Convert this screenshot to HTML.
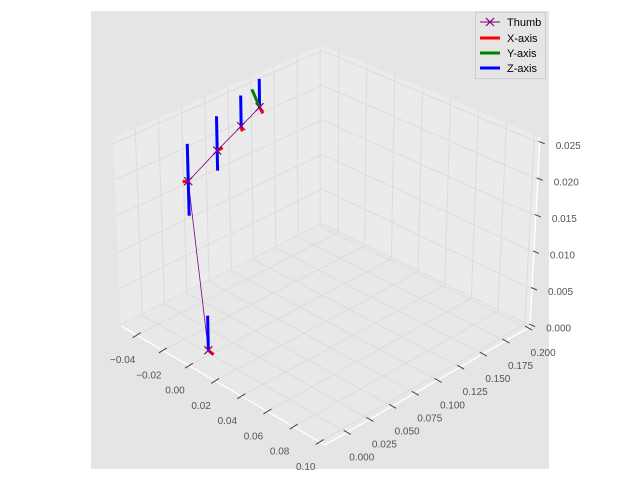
<!DOCTYPE html>
<html><head><meta charset="utf-8"><style>
body{margin:0;background:#fff;}
svg{display:block;font-family:"Liberation Sans",sans-serif;}
</style></head><body>
<svg id="chart" width="640" height="480" viewBox="0 0 640 480">
<rect x="91" y="11" width="458" height="458" fill="#e5e5e5"/>
<g id="panes"></g><g id="grid"></g><g id="axes"></g><g id="marks"></g>
<g>
<rect x="475.5" y="12.5" width="70" height="66" fill="#e5e5e5" stroke="#cccccc"/>
<g><line x1="480" y1="22" x2="500" y2="22" stroke="#800080" stroke-width="1"/><path d="M486,18 l8,8 M494,18 l-8,8" stroke="#800080" stroke-width="1.2"/><text x="507" y="26" font-size="11" fill="#000">Thumb</text></g>
<g><line x1="480" y1="38" x2="500" y2="38" stroke="#ff0000" stroke-width="3"/><text x="507" y="42" font-size="11" fill="#000">X-axis</text></g>
<g><line x1="480" y1="53" x2="500" y2="53" stroke="#008000" stroke-width="3"/><text x="507" y="57" font-size="11" fill="#000">Y-axis</text></g>
<g><line x1="480" y1="68" x2="500" y2="68" stroke="#0000ff" stroke-width="3"/><text x="507" y="72" font-size="11" fill="#000">Z-axis</text></g>
</g>
</svg>
<script>
const xTicks=[-0.04,-0.02,0.00,0.02,0.04,0.06,0.08,0.10];
const xTickLabels=["\u22120.04","\u22120.02","0.00","0.02","0.04","0.06","0.08","0.10"];
const yTicks=[0,0.025,0.05,0.075,0.1,0.125,0.15,0.175,0.2];
const yTickLabels=["0.000","0.025","0.050","0.075","0.100","0.125","0.150","0.175","0.200"];
const zTicks=[0,0.005,0.01,0.015,0.02,0.025];
const zTickLabels=["0.000","0.005","0.010","0.015","0.020","0.025"];
const thumbX=[0.0026,-0.0364,-0.0362,-0.0360,-0.0358];
const thumbY=[-0.006,0.0325,0.0642,0.0902,0.110];
const thumbZ=[0.001,0.018,0.0204,0.0223,0.0238];
const zAxisUp=[0.0047,0.0052,0.0048,0.0043,0.004];
const zAxisDown=[0,0.0048,0.0028,0,0];
const xAxisDx=[0.004,0,0.002,0,0.001];
const xAxisDy=[0,-0.006,0.003,0.001,0.002];
const xAxisDz=[-0.0002,0.0003,0.0004,-0.0008,-0.0009];
const yAxisDx=[0,0,0,0,0];
const yAxisDy=[0,0,0,0,-0.008];
const yAxisDz=[0,0,0,0,0.003];

const X0=-0.052,X1=0.104,Y0=-0.024,Y1=0.202,Z0=-0.0002,Z1=0.0258;
const L=[121,326],F=[325,445],R=[530,327],B=[322,225];
const HL=[-8,-188],HF=[2,-200],HR=[10,-190],HB=[0,-180];
function bil(a,b,c,d,u,v,i){return (1-u)*(1-v)*a[i]+u*(1-v)*b[i]+u*v*c[i]+(1-u)*v*d[i];}
function P(x,y,z){const u=(x-X0)/(X1-X0),v=(y-Y0)/(Y1-Y0),w=(z-Z0)/(Z1-Z0);
 return [bil(L,F,R,B,u,v,0)+w*bil(HL,HF,HR,HB,u,v,0), bil(L,F,R,B,u,v,1)+w*bil(HL,HF,HR,HB,u,v,1)];}
const NS="http://www.w3.org/2000/svg";
function mk(tag,parent,attrs){const e=document.createElementNS(NS,tag);for(const k in attrs)e.setAttribute(k,attrs[k]);document.getElementById(parent).appendChild(e);return e;}
function line(parent,a,b,stroke,w){return mk('line',parent,{x1:a[0],y1:a[1],x2:b[0],y2:b[1],stroke:stroke,'stroke-width':w,'stroke-linecap':'butt'});}
function poly(parent,pts,fill){return mk('polygon',parent,{points:pts.map(p=>p.join(',')).join(' '),fill:fill});}
let e;
e=poly('panes',[P(X0,Y0,Z0),P(X0,Y1,Z0),P(X0,Y1,Z1),P(X0,Y0,Z1)],'#ebebeb');


e=poly('panes',[P(X0,Y1,Z0),P(X1,Y1,Z0),P(X1,Y1,Z1),P(X0,Y1,Z1)],'#ebebeb');


e=poly('panes',[P(X0,Y0,Z0),P(X1,Y0,Z0),P(X1,Y1,Z0),P(X0,Y1,Z0)],'#e8e8e8');


const gc='#dcdcdc';
xTicks.forEach(t=>{
 e=line('grid',P(t,Y0,Z0),P(t,Y1,Z0),gc,1);
 
 
 e=line('grid',P(t,Y1,Z0),P(t,Y1,Z1),gc,1);
 
 
});
yTicks.forEach(t=>{
 e=line('grid',P(X0,t,Z0),P(X1,t,Z0),gc,1);
 
 
 e=line('grid',P(X0,t,Z0),P(X0,t,Z1),gc,1);
 
 
});
zTicks.forEach(t=>{
 e=line('grid',P(X0,Y0,t),P(X0,Y1,t),gc,1);
 
 
 e=line('grid',P(X0,Y1,t),P(X1,Y1,t),gc,1);
 
 
});
e=line('axes',P(X0,Y0,Z0),P(X1,Y0,Z0),'#ffffff',1.3);


e=line('axes',P(X1,Y0,Z0),P(X1,Y1,Z0),'#ffffff',1.3);


e=line('axes',P(X1,Y1,Z0),P(X1,Y1,Z1),'#ffffff',1.3);


function label(txt,x,y,anchor,name){const t=mk('text','axes',{x:x,y:y,'font-size':'10','fill':'#555','text-anchor':anchor});t.textContent=txt;
 
 }
xTicks.forEach((t,i)=>{const p=P(t,Y0,Z0);
 e=line('axes',[p[0]-4,p[1]+2.5],[p[0]+4,p[1]-2.5],'#444',1);
 
 
 label(xTickLabels[i],p[0]-14,p[1]+28,'middle','x-tick-label');});
yTicks.forEach((t,i)=>{const p=P(X1,t,Z0);
 e=line('axes',[p[0]-3,p[1]-2],[p[0]+4,p[1]+2],'#444',1);
 
 
 label(yTickLabels[i],p[0]+15,p[1]+28,'middle','y-tick-label');});
zTicks.forEach((t,i)=>{const p=P(X1,Y1,t);
 e=line('axes',[p[0]-1,p[1]-1.5],[p[0]+5,p[1]+1],'#444',1);
 
 
 label(zTickLabels[i],p[0]+16,p[1]+6,'start','z-tick-label');});
const pts=thumbX.map((x,i)=>P(x,thumbY[i],thumbZ[i]));
e=mk('polyline','marks',{points:pts.map(p=>p.join(',')).join(' '),fill:'none',stroke:'#800080','stroke-width':0.8});


thumbX.forEach((x,i)=>{const p=P(x,thumbY[i],thumbZ[i]);
 e=line('marks',P(x,thumbY[i],thumbZ[i]-zAxisDown[i]),P(x,thumbY[i],thumbZ[i]+zAxisUp[i]),'#0000ff',3);
 
 
 if(yAxisDy[i]||yAxisDz[i]||yAxisDx[i]){
 e=line('marks',p,P(x+yAxisDx[i],thumbY[i]+yAxisDy[i],thumbZ[i]+yAxisDz[i]),'#008000',3);
 
 }
 e=line('marks',p,P(x+xAxisDx[i],thumbY[i]+xAxisDy[i],thumbZ[i]+xAxisDz[i]),'#ff0000',3);
 
 
 e=mk('path','marks',{d:`M${p[0]-4},${p[1]-4} l8,8 M${p[0]+4},${p[1]-4} l-8,8`,stroke:'#800080','stroke-width':1.2,fill:'none'});
 
 
});
</script>
</body></html>
